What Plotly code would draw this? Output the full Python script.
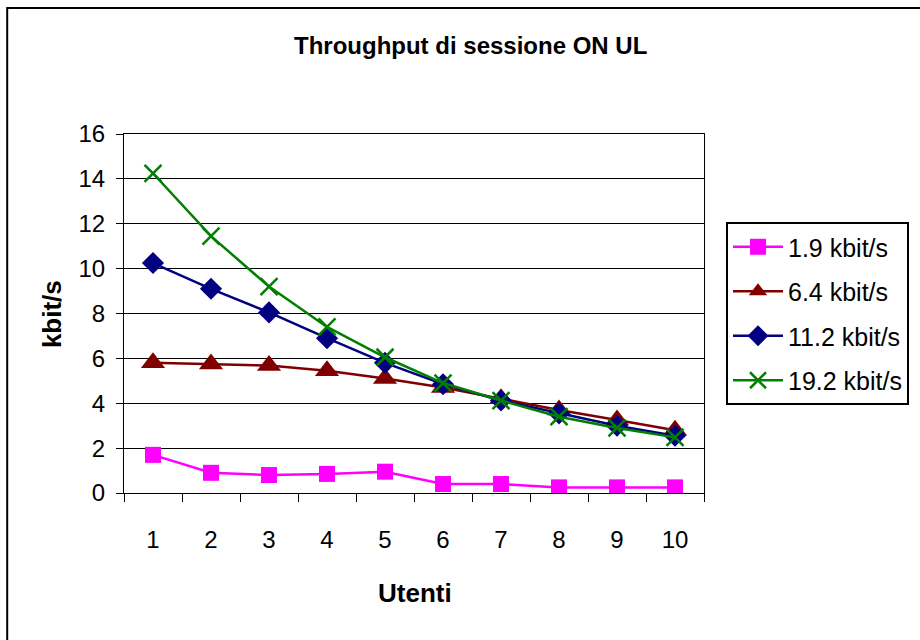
import plotly.graph_objects as go

# Number of users on the x axis
utenti = ["1", "2", "3", "4", "5", "6", "7", "8", "9", "10"]

# Session throughput (kbit/s) per offered bit rate
thr_1_9 = [1.7, 0.9, 0.8, 0.85, 0.95, 0.4, 0.4, 0.25, 0.25, 0.25]
thr_6_4 = [5.8, 5.75, 5.68, 5.45, 5.1, 4.7, 4.2, 3.7, 3.25, 2.8]
thr_11_2 = [10.25, 9.1, 8.05, 6.9, 5.8, 4.85, 4.12, 3.55, 3.0, 2.55]
thr_19_2 = [14.25, 11.45, 9.2, 7.4, 6.05, 4.9, 4.12, 3.4, 2.9, 2.48]

series_names = ["1.9 kbit/s", "6.4 kbit/s", "11.2 kbit/s", "19.2 kbit/s"]
series_values = [thr_1_9, thr_6_4, thr_11_2, thr_19_2]
series_colors = ["#FF00FF", "#800000", "#000080", "#008000"]
series_markers = [
    dict(symbol="square", size=16),
    dict(symbol="triangle-up", size=21),
    dict(symbol="diamond", size=17),
    dict(symbol="x-thin-open", size=17),
]

FONT = "Liberation Sans, Arial, sans-serif"

# plot area in pixels
W, H = 920, 640
L, R, T, B = 124, 705, 134, 493

fig = go.Figure()
for name, vals, col, mk in zip(series_names, series_values, series_colors, series_markers):
    marker = dict(color=col, **mk)
    if mk["symbol"].startswith("x-thin"):
        marker["line"] = dict(width=2.5, color=col)
    fig.add_trace(go.Scatter(
        x=utenti, y=vals, name=name, mode="lines+markers",
        line=dict(color=col, width=2.5), marker=marker,
        legendgroup=name,
    ))


def px_x(p):
    return (p - L) / (R - L)


def px_y(p):
    return (B - p) / (B - T)


fig.update_layout(
    width=W, height=H,
    margin=dict(l=L, r=W - R, t=T, b=H - B, pad=0),
    paper_bgcolor="white", plot_bgcolor="white",
    font=dict(family=FONT, color="black", size=24),
    showlegend=True,
    legend=dict(
        x=px_x(726), y=px_y(222), xanchor="left", yanchor="top",
        bordercolor="black", borderwidth=2, bgcolor="white",
        font=dict(size=25, family=FONT), tracegroupgap=9,
        itemwidth=50,
    ),
    xaxis=dict(
        type="category", tickson="boundaries", ticks="outside", ticklen=8,
        tickcolor="black", tickwidth=1, showgrid=False,
        showline=True, linecolor="black", linewidth=1, mirror=True,
        tickfont=dict(size=24, family=FONT), range=[-0.5, 9.5],
        ticklabelstandoff=25,
    ),
    yaxis=dict(
        range=[0, 16], dtick=2, ticks="outside", ticklen=7,
        tickcolor="black", tickwidth=1, showgrid=True, gridcolor="black",
        gridwidth=1, showline=True, linecolor="black", linewidth=1,
        mirror=True, zeroline=False, tickfont=dict(size=24, family=FONT),
        ticklabelstandoff=6,
    ),
    annotations=[
        dict(text="<b>Throughput di sessione ON UL</b>", xref="paper", yref="paper",
             x=px_x(471), y=px_y(46), xanchor="center", yanchor="middle",
             showarrow=False, font=dict(size=24, family=FONT)),
        dict(text="<b>Utenti</b>", xref="paper", yref="paper",
             x=px_x(416), y=px_y(593), xanchor="center", yanchor="middle",
             showarrow=False, font=dict(size=26, family=FONT)),
        dict(text="<b>kbit/s</b>", xref="paper", yref="paper",
             x=px_x(52), y=px_y(314), xanchor="center", yanchor="middle",
             showarrow=False, textangle=-90, font=dict(size=26, family=FONT)),
    ],
    shapes=[
        dict(type="rect", xref="paper", yref="paper",
             x0=px_x(7), x1=px_x(930), y0=px_y(650), y1=px_y(8),
             line=dict(color="black", width=2), layer="below"),
    ],
)

fig.write_html("out.html")
